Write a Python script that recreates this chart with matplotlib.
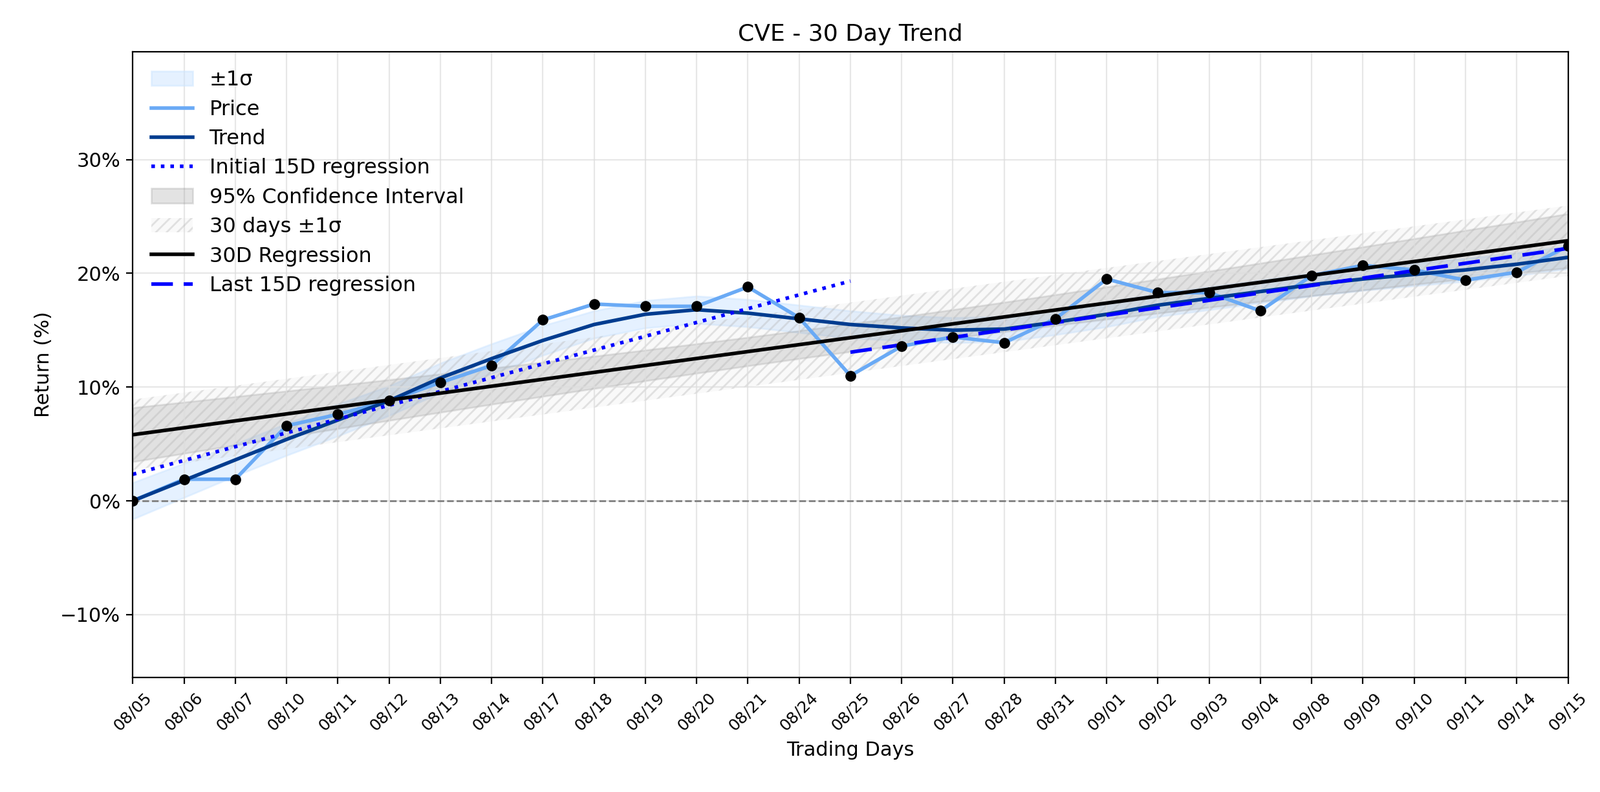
import numpy as np
import matplotlib
matplotlib.use("Agg")
import matplotlib.pyplot as plt
from matplotlib.ticker import FuncFormatter

dates = ["08/05","08/06","08/07","08/10","08/11","08/12","08/13","08/14","08/17","08/18",
         "08/19","08/20","08/21","08/24","08/25","08/26","08/27","08/28","08/31","09/01",
         "09/02","09/03","09/04","09/08","09/09","09/10","09/11","09/14","09/15"]
price = [0.0,1.9,1.9,6.6,7.6,8.8,10.4,11.9,15.9,17.3,17.1,17.1,18.8,16.1,11.0,13.6,14.4,13.9,
         16.0,19.5,18.3,18.3,16.7,19.8,20.7,20.3,19.4,20.1,22.4]
trend = [0.0,1.8,3.6,5.4,7.1,8.8,10.8,12.5,14.1,15.5,16.4,16.8,16.5,16.0,15.5,15.2,15.0,15.1,
         15.7,16.4,17.2,17.8,18.4,19.0,19.5,19.9,20.3,20.8,21.4]
trend_sigma = [1.6,1.5,1.4,1.4,1.4,1.3,1.3,1.3,1.3,1.2,1.2,1.2,1.2,1.2,1.2,1.1,1.1,1.1,
               1.1,1.1,1.0,1.0,1.0,1.0,1.0,1.0,1.0,1.0,1.0]

x = np.arange(len(price))
y = np.array(price)
tr = np.array(trend); ts = np.array(trend_sigma)

fig, ax = plt.subplots(figsize=(12.37, 6.12), dpi=200)
fig.subplots_adjust(left=0.083, right=0.98, top=0.935, bottom=0.145)

ax.fill_between(x, tr - ts, tr + ts, color="#cce5ff", alpha=0.5, label="±1σ")
ax.plot(x, y, color="#6aaaf5", lw=2, label="Price")
ax.plot(x, tr, color="#003c8f", lw=2, label="Trend")

xi = x[:15]
pi = np.polyfit(xi, y[:15], 1)
xi_ext = np.linspace(0, 14, 50)
ax.plot(xi_ext, np.polyval(pi, xi_ext), color="blue", ls=":", lw=2, label="Initial 15D regression")

p = np.polyfit(x, y, 1)
fit = np.polyval(p, x)
res = y - fit
n = len(x)
s = np.sqrt(np.sum(res**2) / (n - 2))
se = s * np.sqrt(1/n + (x - x.mean())**2 / np.sum((x - x.mean())**2))
ax.fill_between(x, fit - 2.05*se, fit + 2.05*se, color="gray", alpha=0.22, label="95% Confidence Interval")
sd = np.std(res)
ax.fill_between(x, fit - sd, fit + sd, facecolor=(0.85, 0.85, 0.85, 0.15), edgecolor=(0.7, 0.7, 0.7, 0.35),
                hatch="////", lw=0, label="30 days ±1σ")
ax.plot(x, fit, color="black", lw=2, label="30D Regression")

xl = x[14:]
pl = np.polyfit(xl, y[14:], 1)
ax.plot(xl, np.polyval(pl, xl), color="blue", ls=(0, (6, 3)), lw=2, label="Last 15D regression")

ax.scatter(x, y, color="black", s=25, zorder=5)
ax.axhline(0, color="gray", ls="--", lw=1)

ax.set_xlim(0, n - 1)
ax.set_ylim(-15.5, 39.5)
ax.set_xticks(x)
ax.set_xticklabels(dates, rotation=45, fontsize=9)
ax.set_yticks([-10, 0, 10, 20, 30])
ax.tick_params(axis="y", labelsize=11)
ax.yaxis.set_major_formatter(FuncFormatter(lambda v, _: f"{v:.0f}%".replace("-", "−")))
ax.grid(True, color="#dddddd", lw=0.8, alpha=0.7)
ax.set_title("CVE - 30 Day Trend", fontsize=13)
ax.set_xlabel("Trading Days", fontsize=11)
ax.set_ylabel("Return (%)", fontsize=11)
ax.legend(loc="upper left", frameon=False, fontsize=11.5, labelspacing=0.45)
fig.savefig("out.png", dpi=200)
